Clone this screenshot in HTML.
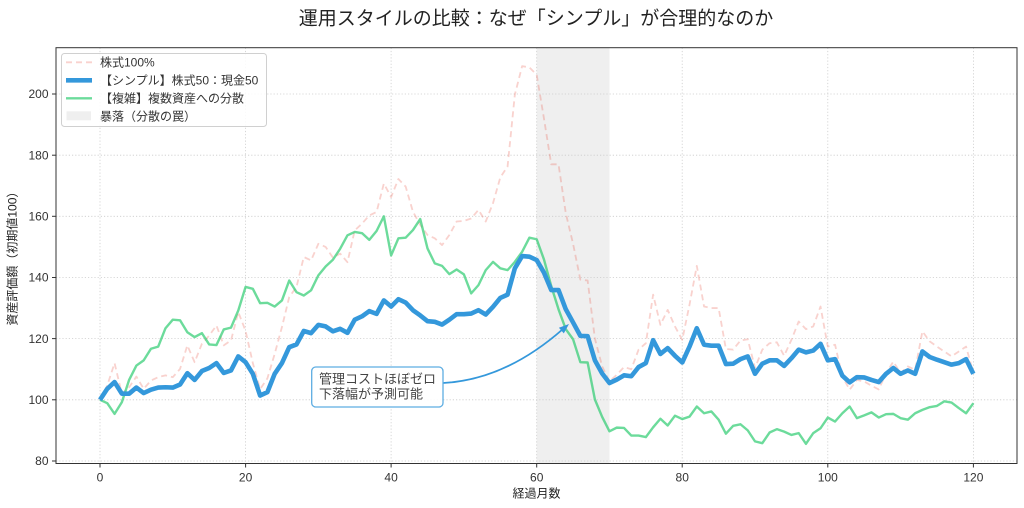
<!DOCTYPE html>
<html><head><meta charset="utf-8"><style>
html,body{margin:0;padding:0;background:#fff;}
svg{display:block;font-family:"Liberation Sans","Noto Sans CJK JP",sans-serif;}
</style></head><body>
<svg width="1024" height="508" viewBox="0 0 1024 508" xmlns="http://www.w3.org/2000/svg">
<rect x="0" y="0" width="1024" height="508" fill="#fff"/>
<!-- title -->
<text x="536" y="24.5" font-size="19" text-anchor="middle" fill="#222">運用スタイルの比較：なぜ「シンプル」が合理的なのか</text>
<!-- crash span -->
<rect x="536.7" y="47.7" width="72.8" height="415.8" fill="#efefef"/>
<!-- grid -->
<g stroke="#cccccc" stroke-width="0.8" stroke-dasharray="1.2,2">
<line x1="100" y1="47.7" x2="100" y2="463.5"/>
<line x1="245.6" y1="47.7" x2="245.6" y2="463.5"/>
<line x1="391.1" y1="47.7" x2="391.1" y2="463.5"/>
<line x1="536.7" y1="47.7" x2="536.7" y2="463.5"/>
<line x1="682.2" y1="47.7" x2="682.2" y2="463.5"/>
<line x1="827.8" y1="47.7" x2="827.8" y2="463.5"/>
<line x1="973.4" y1="47.7" x2="973.4" y2="463.5"/>
<line x1="56" y1="461" x2="1017" y2="461"/>
<line x1="56" y1="399.8" x2="1017" y2="399.8"/>
<line x1="56" y1="338.6" x2="1017" y2="338.6"/>
<line x1="56" y1="277.5" x2="1017" y2="277.5"/>
<line x1="56" y1="216.3" x2="1017" y2="216.3"/>
<line x1="56" y1="155.2" x2="1017" y2="155.2"/>
<line x1="56" y1="94" x2="1017" y2="94"/>
</g>
<!-- series -->
<g transform="matrix(7.278 0 0 -3.058 100 705.6)" fill="none" stroke-linejoin="round">
<polyline vector-effect="non-scaling-stroke" stroke="rgba(231,76,60,0.25)" stroke-width="1.8" stroke-dasharray="6,4" points="0,100 1,104.7 2,112 3,102 4,104.1 5,107.6 6,103.6 7,106.3 8,107.4 9,108 10,107.4 11,110.1 12,117.8 13,112.3 14,118.3 15,121 16,124.3 17,117.8 18,119.4 19,128.7 20,122.5 21,112 22,103.5 23,107 24,115 25,123.8 26,133.6 27,136.9 28,146.7 29,145.6 30,151 31,150 32,146.5 33,147.8 34,145 35,155.4 36,157.6 37,160.3 38,161.4 39,170.7 40,166.3 41,172.2 42,169.7 43,161.5 44,157.2 45,153.9 46,152.8 47,150.6 48,153.9 49,158.3 50,158.5 51,159.3 52,162.1 53,158.3 54,164.3 55,172.7 56,176.3 57,199.8 58,209.1 59,208.7 60,206.3 61,192 62,177 63,177 64,161 65,151 66,139.3 67,139 68,120 69,110.9 70,106 71,108.2 72,110.7 73,110 74,116.4 75,118.5 76,134.4 77,124.5 78,129.4 79,124 80,119.6 81,131.1 82,143.8 83,130.5 84,130 85,130 86,116.6 87,116.4 88,119.4 89,119.8 90,110.4 91,116.4 92,118.5 93,118.8 94,114.4 95,119.6 96,125.6 97,123.1 98,124 99,130.5 100,117.4 101,118 102,107.6 103,103.3 104,106.5 105,106 106,104.6 107,103.4 108,108.6 109,112.5 110,108.7 111,110.9 112,109.8 113,122.4 114,119.1 115,117.4 116,115.8 117,114.2 118,115.8 119,117.4 120,108.7"/>
<polyline vector-effect="non-scaling-stroke" stroke="rgba(46,204,113,0.7)" stroke-width="2.4" points="0,100 1,98.9 2,95.4 3,99.2 4,106.5 5,111.2 6,112.9 7,116.7 8,117.4 9,123.4 10,126.2 11,126 12,122.1 13,120.5 14,121.8 15,118.1 16,117.9 17,123 18,123.6 19,129.2 20,136.9 21,136.3 22,131.6 23,131.7 24,130.5 25,132.5 26,139 27,135.2 28,134.1 29,135.8 30,140.7 31,143.6 32,145.8 33,149.4 34,153.8 35,154.9 36,154.5 37,152.3 38,155.2 39,160 40,147.2 41,152.8 42,153 43,155.5 44,159.1 45,149.5 46,144.6 47,143.8 48,141.1 49,142.6 50,141 51,134.8 52,137.5 53,142.4 54,145.1 55,143 56,142.4 57,145.1 58,148.4 59,153 60,152.5 61,145.9 62,137.2 63,129.6 64,123.1 65,119.8 66,112.3 67,112.2 68,100.1 69,94.4 70,89.7 71,90.9 72,90.8 73,88.3 74,88.3 75,87.8 76,91 77,93.8 78,91.6 79,94.8 80,93.7 81,94.5 82,97.8 83,95.6 84,96.2 85,93.5 86,88.9 87,91.5 88,92 89,90 90,86.4 91,85.8 92,89.3 93,90.4 94,89.6 95,88.5 96,89.1 97,85.6 98,89.1 99,90.7 100,94.2 101,92.9 102,95.6 103,97.8 104,94 105,94.9 106,95.9 107,94.2 108,95.3 109,95.4 110,94 111,93.5 112,95.6 113,96.7 114,97.6 115,98 116,99.5 117,99.1 118,97.3 119,95.6 120,98.9"/>
<polyline vector-effect="non-scaling-stroke" stroke="#3498db" stroke-width="4.6" points="0,100 1,103.6 2,105.8 3,102 4,102 5,104 6,102.2 7,103.3 8,104 9,104.1 10,104 11,105 12,108.7 13,106.5 14,109.4 15,110.4 16,112 17,108.8 18,109.6 19,114.2 20,112.3 21,108.5 22,101.4 23,102.5 24,108.5 25,112 26,117.2 27,118.1 28,122.5 29,121.8 30,124.5 31,124 32,122.4 33,123.2 34,121.9 35,126.2 36,127.3 37,129 38,128.1 39,132.5 40,130.5 41,132.9 42,131.8 43,129.3 44,127.6 45,125.7 46,125.5 47,124.6 48,126.2 49,128 50,128 51,128.2 52,129.3 53,127.9 54,130.4 55,133.3 56,134.4 57,143 58,147 59,146.8 60,145.7 61,141.6 62,135.9 63,135.9 64,129.6 65,125.3 66,120.9 67,120.8 68,112.9 69,108.6 70,105.5 71,106.6 72,108 73,107.7 74,110.7 75,112 76,119.5 77,115 78,116.9 79,114.4 80,112.2 81,117.4 82,123.4 83,118 84,117.7 85,117.7 86,111.7 87,111.8 88,113.3 89,114.2 90,108.5 91,111.8 92,112.9 93,112.9 94,111.1 95,113.6 96,116.4 97,115.5 98,116.1 99,118.3 100,112.9 101,113.3 102,107.9 103,105.7 104,107.4 105,107.3 106,106.5 107,105.8 108,108.5 109,110.4 110,108.5 111,109.6 112,108.5 113,115.8 114,114 115,113.1 116,112.3 117,111.5 118,112 119,113.3 120,108.5"/>
</g>
<!-- annotation arrow -->
<path d="M443,383 Q505,380 563,329" fill="none" stroke="#3498db" stroke-width="1.8"/>
<polygon points="569,324 563.8,333.4 558.9,327.8" fill="#3498db"/>
<!-- annotation box -->
<rect x="311.7" y="367" width="131.3" height="40" rx="4" fill="rgba(255,255,255,0.9)" stroke="#5dade2" stroke-width="1.3"/>
<text x="319" y="383.5" font-size="13" fill="#444">管理コストほぼゼロ</text>
<text x="319" y="398.5" font-size="13" fill="#444">下落幅が予測可能</text>
<!-- spines -->
<rect x="56" y="47.7" width="961" height="415.8" fill="none" stroke="#333" stroke-width="1"/>
<!-- ticks -->
<g stroke="#333" stroke-width="1">
<line x1="100" y1="463.5" x2="100" y2="467.5"/>
<line x1="245.6" y1="463.5" x2="245.6" y2="467.5"/>
<line x1="391.1" y1="463.5" x2="391.1" y2="467.5"/>
<line x1="536.7" y1="463.5" x2="536.7" y2="467.5"/>
<line x1="682.2" y1="463.5" x2="682.2" y2="467.5"/>
<line x1="827.8" y1="463.5" x2="827.8" y2="467.5"/>
<line x1="973.4" y1="463.5" x2="973.4" y2="467.5"/>
<line x1="52" y1="461" x2="56" y2="461"/>
<line x1="52" y1="399.8" x2="56" y2="399.8"/>
<line x1="52" y1="338.6" x2="56" y2="338.6"/>
<line x1="52" y1="277.5" x2="56" y2="277.5"/>
<line x1="52" y1="216.3" x2="56" y2="216.3"/>
<line x1="52" y1="155.2" x2="56" y2="155.2"/>
<line x1="52" y1="94" x2="56" y2="94"/>
</g>
<g font-size="12" fill="#333" text-anchor="middle">
<text x="100" y="481.5">0</text>
<text x="245.6" y="481.5">20</text>
<text x="391.1" y="481.5">40</text>
<text x="536.7" y="481.5">60</text>
<text x="682.2" y="481.5">80</text>
<text x="827.8" y="481.5">100</text>
<text x="973.4" y="481.5">120</text>
</g>
<g font-size="12" fill="#333" text-anchor="end">
<text x="48.5" y="465.2">80</text>
<text x="48.5" y="404">100</text>
<text x="48.5" y="342.8">120</text>
<text x="48.5" y="281.7">140</text>
<text x="48.5" y="220.5">160</text>
<text x="48.5" y="159.4">180</text>
<text x="48.5" y="98.2">200</text>
</g>
<text x="536.5" y="497.5" font-size="12" fill="#222" text-anchor="middle">経過月数</text>
<text transform="translate(16.5,255.6) rotate(-90)" font-size="12" fill="#222" text-anchor="middle">資産評価額（初期値100）</text>
<!-- legend -->
<rect x="61.5" y="53.5" width="205" height="73" rx="3" fill="rgba(255,255,255,0.85)" stroke="#d0d0d0" stroke-width="1"/>
<line x1="66" y1="62.3" x2="92" y2="62.3" stroke="rgba(231,76,60,0.25)" stroke-width="1.8" stroke-dasharray="6,4"/>
<line x1="66" y1="80.3" x2="92" y2="80.3" stroke="#3498db" stroke-width="4.6"/>
<line x1="66" y1="98.3" x2="92" y2="98.3" stroke="rgba(46,204,113,0.7)" stroke-width="2.4"/>
<rect x="66.5" y="111.3" width="24.5" height="9" fill="#efefef"/>
<g font-size="12" fill="#333">
<text x="100" y="66.6">株式100%</text>
<text x="100" y="84.6">【シンプル】株式50：現金50</text>
<text x="100" y="102.6">【複雑】複数資産への分散</text>
<text x="100" y="120.6">暴落（分散の罠）</text>
</g>
</svg>
</body></html>
